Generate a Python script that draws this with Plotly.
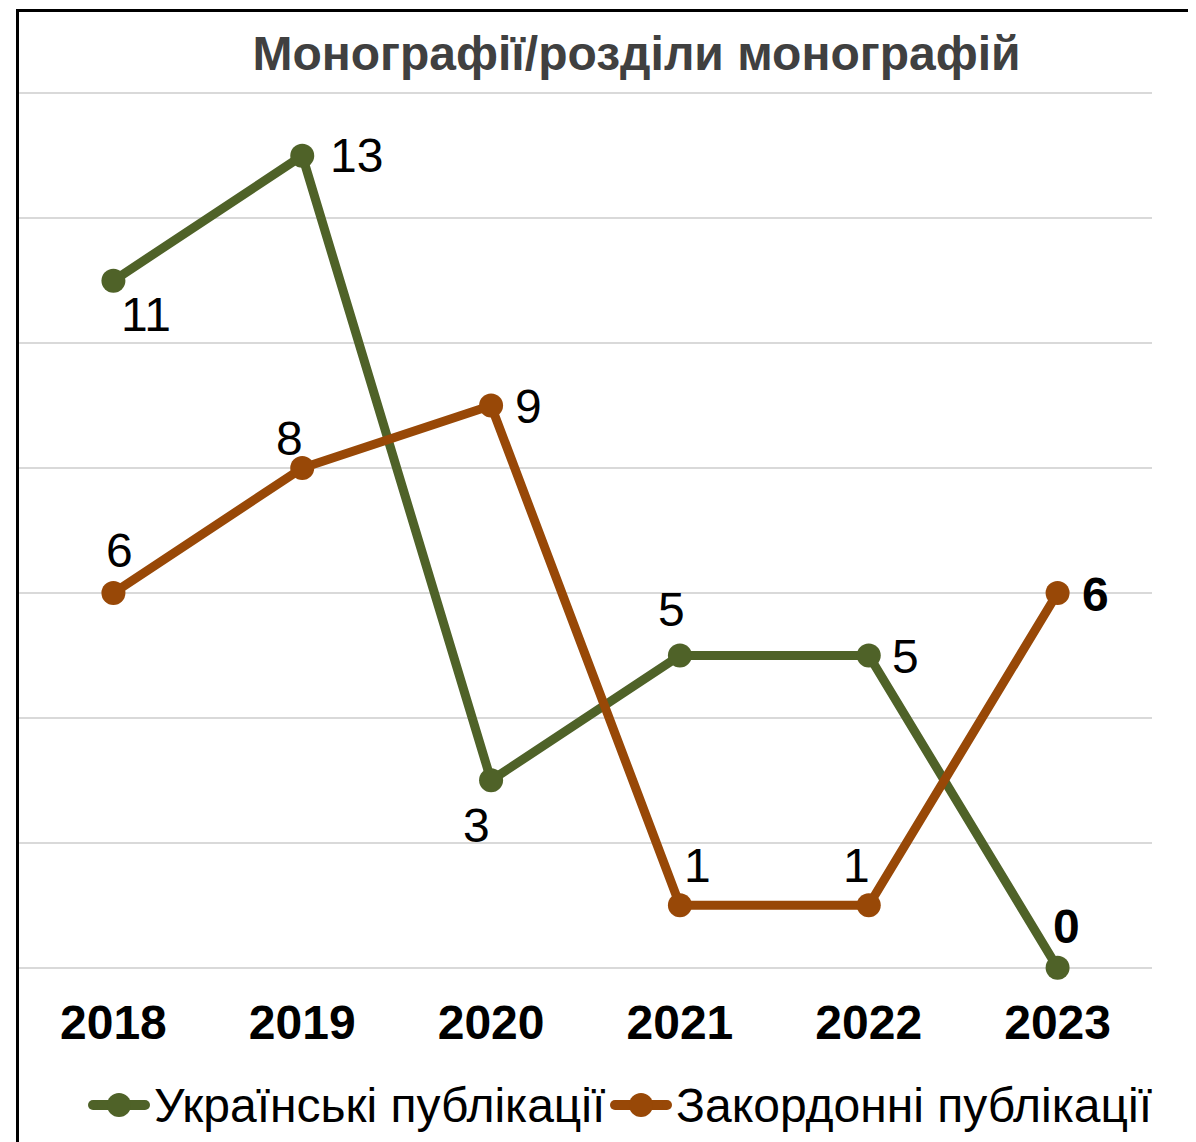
import plotly.graph_objects as go

years = ["2018", "2019", "2020", "2021", "2022", "2023"]
ukr = [11, 13, 3, 5, 5, 0]
foreign = [6, 8, 9, 1, 1, 6]
ukr_name = "Українські публікації"
for_name = "Закордонні публікації"
title = "Монографії/розділи монографій"

# label offsets (pixels, right / down) from each point, and bold flags
ukr_off = [(33, 36), (54, 2), (-15, 47), (-8, -44), (37, 3), (9, -39)]
for_off = [(6, -40), (-13, -28), (37, 3), (18, -38), (-12, -38), (38, 4)]
ukr_bold = [False, False, False, False, False, True]
for_bold = [False, False, False, False, False, True]

green = "#4F6228"
orange = "#984807"
font = "Liberation Sans, Arial, sans-serif"

W, H = 1196, 1142
OFF = 8  # page body margin offset
# plot area in page pixels: x 19..1152, y 92..969
L, R, T, B = 19 - OFF, W - 1152 + OFF, 92 - OFF, H - 969 + OFF
PW, PH = W - L - R, H - T - B


def px_x(p):
    return (p - OFF - L) / PW


def px_y(p):
    return (H - B - (p - OFF)) / PH


fig = go.Figure()
for name, vals, col in [(ukr_name, ukr, green), (for_name, foreign, orange)]:
    fig.add_trace(go.Scatter(
        x=years, y=vals, name=name, mode="lines+markers",
        line=dict(color=col, width=9), marker=dict(color=col, size=24),
        cliponaxis=False, showlegend=False,
    ))

annotations = []
for vals, offs, bold in [(ukr, ukr_off, ukr_bold), (foreign, for_off, for_bold)]:
    for i, (v, (dx, dy), b) in enumerate(zip(vals, offs, bold)):
        annotations.append(dict(
            x=i, y=v, xref="x", yref="y", text=f"<b>{v}</b>" if b else str(v),
            showarrow=False, xanchor="center", yanchor="middle", xshift=dx, yshift=-dy + 2,
            font=dict(size=48, color="black", family=font)))

shapes = [dict(type="rect", xref="paper", yref="paper", x0=px_x(17.5), x1=px_x(1400),
               y0=px_y(1400), y1=px_y(10.5), line=dict(color="black", width=3), layer="above")]

# custom legend (symbol + label) matching the original's large legend keys
legend_items = [(ukr_name, green, 88, 150, 152), (for_name, orange, 610, 672, 674)]
ly = 1105
for name, col, xa, xb, xt in legend_items:
    shapes.append(dict(type="line", xref="paper", yref="paper", x0=px_x(xa + 5), x1=px_x(xb - 5),
                       y0=px_y(ly), y1=px_y(ly), line=dict(color=col, width=10)))
    cx = (xa + xb) / 2
    shapes.append(dict(type="circle", xref="paper", yref="paper", x0=px_x(cx - 12), x1=px_x(cx + 12),
                       y0=px_y(ly + 12), y1=px_y(ly - 12), fillcolor=col, line=dict(width=0)))
    for ex in (xa + 5, xb - 5):
        shapes.append(dict(type="circle", xref="paper", yref="paper", x0=px_x(ex - 5), x1=px_x(ex + 5),
                           y0=px_y(ly + 5), y1=px_y(ly - 5), fillcolor=col, line=dict(width=0)))
    annotations.append(dict(text=name, xref="paper", yref="paper", x=px_x(xt), y=px_y(ly),
                            xanchor="left", yanchor="middle", showarrow=False,
                            font=dict(size=48, color="black", family=font)))

fig.update_layout(
    width=W, height=H,
    margin=dict(l=L, r=R, t=T, b=B, autoexpand=False),
    paper_bgcolor="white", plot_bgcolor="white",
    font=dict(family=font, color="black"),
    title=dict(text=f"<b>{title}</b>", x=((255 + 1018) / 2 - OFF) / W, xanchor="center",
               y=1 - (55 - OFF - 2) / H, yanchor="middle",
               font=dict(size=48, color="#404040", family=font)),
    xaxis=dict(type="category", range=[-0.5, 5.5], showgrid=False, zeroline=False,
               showline=False, tickfont=dict(size=48, color="black", family=font),
               tickprefix="<b>", ticksuffix="</b>", ticklabelstandoff=21),
    yaxis=dict(range=[-0.02, 14.02], tickvals=[0, 2, 4, 6, 8, 10, 12, 14], showgrid=True,
               gridcolor="#D9D9D9", gridwidth=2, zeroline=False, showticklabels=False,
               showline=False),
    showlegend=False,
    shapes=shapes,
    annotations=annotations,
)

fig.write_html("out.html")
